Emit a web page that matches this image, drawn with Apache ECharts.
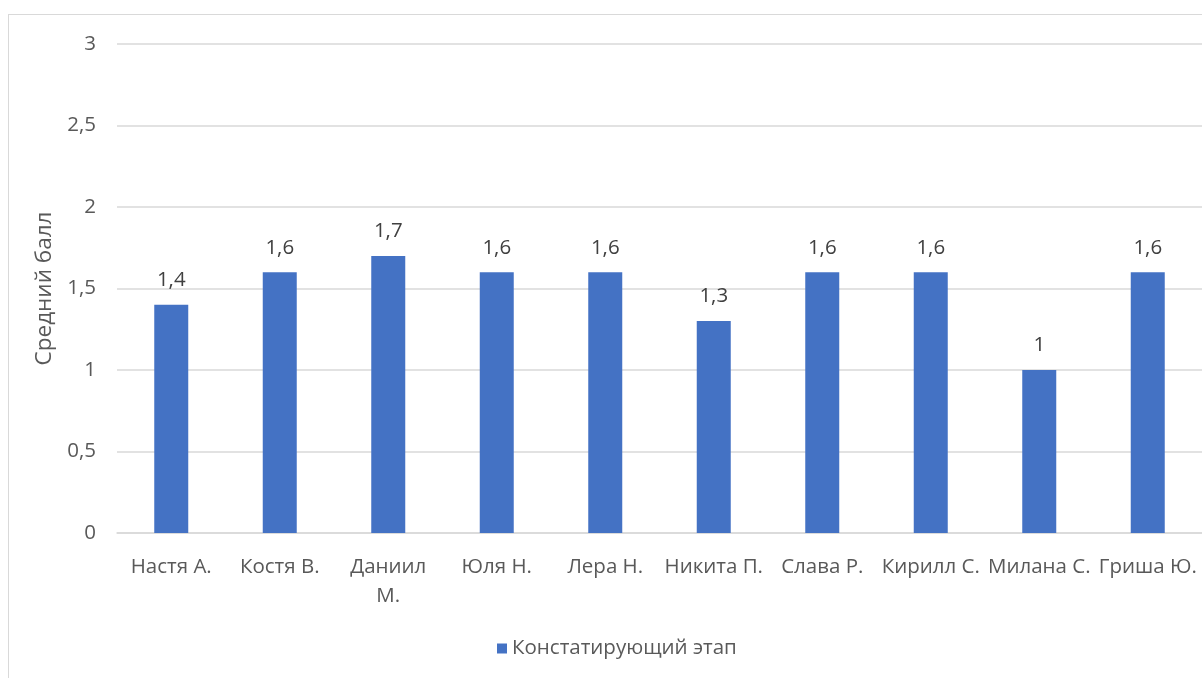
<!DOCTYPE html>
<html>
<head>
<meta charset="utf-8">
<script src="https://cdn.jsdelivr.net/npm/echarts@6/dist/echarts.min.js"></script>
<style>
  html, body { margin: 0; padding: 0; background: #fff; }
  #frame { position: absolute; left: 8px; top: 14px; width: 1300px; height: 800px; border: 1.5px solid #d9d9d9; box-sizing: border-box; }
  #chart { position: absolute; left: 0; top: 0; width: 1202px; height: 678px; }
</style>
</head>
<body>
<div id="frame"></div>
<div id="chart"></div>
<script>
// Students and their average scores at the ascertaining stage
const students = ['Настя А.', 'Костя В.', 'Даниил\nМ.', 'Юля Н.', 'Лера Н.', 'Никита П.', 'Слава Р.', 'Кирилл С.', 'Милана С.', 'Гриша Ю.'];
const scores = [1.4, 1.6, 1.7, 1.6, 1.6, 1.3, 1.6, 1.6, 1, 1.6];
const seriesName = 'Констатирующий этап';
const yAxisTitle = 'Средний балл';

const fmt = v => String(v).replace('.', ',');
const FONT = '"Open Sans", "Noto Sans", sans-serif';
const FS = 20.5;

const chart = echarts.init(document.getElementById('chart'), null, { renderer: 'canvas' });
chart.setOption({
  animation: false,
  textStyle: { fontFamily: FONT },
  grid: { left: 117, right: 0, top: 44, bottom: 145 },
  legend: {
    data: [seriesName],
    top: 633,
    left: 492,
    itemWidth: 10,
    itemHeight: 10,
    icon: 'rect',
    itemGap: 6,
    textStyle: { color: '#595959', fontSize: FS, fontFamily: FONT }
  },
  xAxis: {
    type: 'category',
    data: students,
    axisLine: { lineStyle: { color: '#d9d9d9', width: 1.5 } },
    axisTick: { show: false },
    axisLabel: { color: '#595959', fontSize: FS, margin: 20, lineHeight: 29, interval: 0, fontFamily: FONT }
  },
  yAxis: {
    type: 'value',
    min: 0,
    max: 3,
    interval: 0.5,
    name: yAxisTitle,
    nameLocation: 'middle',
    nameGap: 60,
    nameTextStyle: { color: '#595959', fontSize: 22.5, fontFamily: FONT },
    axisLabel: { color: '#595959', fontSize: FS, margin: 21, formatter: v => fmt(v), fontFamily: FONT },
    splitLine: { lineStyle: { color: '#d9d9d9', width: 1.5 } },
    axisLine: { show: false },
    axisTick: { show: false }
  },
  series: [{
    name: seriesName,
    type: 'bar',
    data: scores,
    barWidth: 34,
    itemStyle: { color: '#4472c4' },
    label: {
      show: true,
      position: 'top',
      distance: 14,
      color: '#404040',
      fontSize: FS,
      fontFamily: FONT,
      formatter: p => fmt(p.value)
    }
  }]
});
</script>
</body>
</html>
